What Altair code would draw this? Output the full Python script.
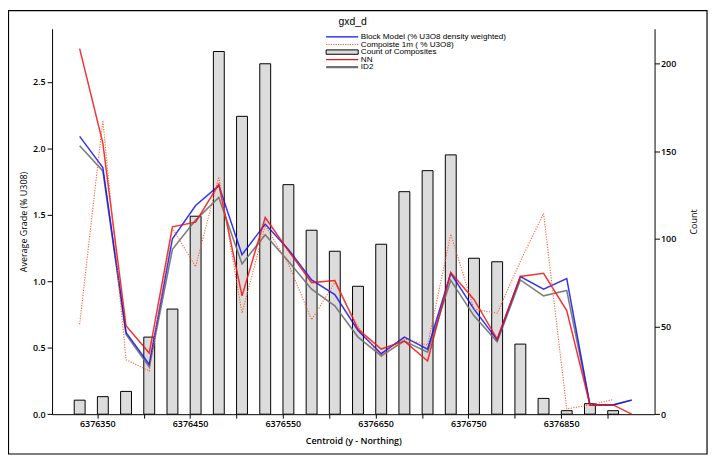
import altair as alt
import pandas as pd

# ---- data ----
centroids = [6376331, 6376356, 6376381, 6376406, 6376431, 6376456, 6376481,
             6376506, 6376531, 6376556, 6376581, 6376606, 6376631, 6376656,
             6376681, 6376706, 6376731, 6376756, 6376781, 6376806, 6376831,
             6376856, 6376881, 6376906, 6376926]

block_model = [2.09, 1.855, 0.615, 0.375, 1.32, 1.57, 1.72, 1.20, 1.43, 1.24,
               1.01, 0.90, 0.63, 0.455, 0.58, 0.49, 1.06, 0.79, 0.56, 1.036,
               0.94, 1.02, 0.07, 0.07, 0.106]
composite = [0.677, 2.21, 0.41, 0.325, 1.40, 1.11, 1.786, 0.76, 1.42, 1.13,
             0.71, 0.99, 0.66, 0.43, 0.565, 0.52, 1.354, 0.79, 0.76, 1.15,
             1.51, 0.04, 0.07, 0.11]
nn = [2.75, 2.04, 0.665, 0.46, 1.41, 1.445, 1.73, 0.89, 1.48, 1.23, 0.99,
      1.005, 0.64, 0.49, 0.55, 0.40, 1.066, 0.863, 0.565, 1.036, 1.06, 0.78,
      0.07, 0.07, 0.0]
id2 = [2.02, 1.83, 0.60, 0.355, 1.24, 1.46, 1.63, 1.13, 1.35, 1.15, 0.94,
       0.815, 0.58, 0.44, 0.55, 0.466, 1.007, 0.74, 0.545, 1.01, 0.89, 0.93,
       0.07, 0.07, 0.106]
counts = [8, 10, 13, 44, 60, 113, 207, 170, 200, 131, 105, 93, 73, 97, 127,
          139, 148, 89, 87, 40, 9, 2, 6, 2]

x_ticks = [6376350, 6376400, 6376450, 6376500, 6376550, 6376600, 6376650,
           6376700, 6376750, 6376800, 6376850, 6376900]
grade_ticks = [0, 0.5, 1.0, 1.5, 2.0, 2.5]
count_ticks = [0, 50, 100, 150, 200]

series_names = ["Block Model (% U3O8 density weighted)", "Compoiste 1m ( % U3O8)",
                "Count of Composites", "NN", "ID2"]
title_text = "gxd_d"

# ---- tables ----
df_bars = pd.DataFrame({"c": centroids[:len(counts)], "n": counts})
df_bm = pd.DataFrame({"c": centroids, "v": block_model})
df_comp = pd.DataFrame({"c": centroids[:len(composite)], "v": composite})
df_nn = pd.DataFrame({"c": centroids, "v": nn})
df_id2 = pd.DataFrame({"c": centroids, "v": id2})

W, H = 608.5, 389.3
AX_FONT = "Open Sans"
TXT_FONT = "Liberation Sans"

x_enc = alt.X(
    "c:Q",
    scale=alt.Scale(domain=[6376306.6, 6376945.3], nice=False, zero=False),
    axis=alt.Axis(
        values=x_ticks,
        labelExpr="(datum.value - 6376350) % 100 === 0 ? format(datum.value, 'd') : ''",
        title="Centroid (y - Northing)",
        titleY=27, titleBaseline="middle",
        grid=False, tickSize=4, labelPadding=1,
        domainColor="black", tickColor="black", labelColor="black", titleColor="black",
        labelFont=AX_FONT, labelFontSize=9, labelFontWeight=600,
        titleFont=AX_FONT, titleFontSize=9, titleFontWeight=600,
        labelOverlap=False, labelFlush=False,
    ),
)

y_grade = alt.Y(
    "v:Q",
    scale=alt.Scale(domain=[0, 2.9], nice=False),
    axis=alt.Axis(
        orient="left", values=grade_ticks, format=".1f",
        title="Average Grade (% U308)",
        titleX=-29, titleY=H / 2, titleAngle=270, titleBaseline="middle",
        grid=False, tickSize=5, labelPadding=2,
        domainColor="black", tickColor="black", labelColor="black", titleColor="black",
        labelFont=AX_FONT, labelFontSize=9, labelFontWeight=600,
        titleFont=AX_FONT, titleFontSize=9, titleFontWeight="normal",
    ),
)

y_count = alt.Y(
    "n:Q",
    scale=alt.Scale(domain=[0, 220], nice=False),
    axis=alt.Axis(
        orient="right", values=count_ticks, format="d",
        title="Count",
        titleX=39, titleY=H / 2, titleAngle=270, titleBaseline="middle",
        grid=False, tickSize=5, labelPadding=1,
        domainColor="black", tickColor="black", labelColor="black", titleColor="black",
        labelFont=AX_FONT, labelFontSize=9, labelFontWeight=600,
        titleFont=AX_FONT, titleFontSize=9, titleFontWeight="normal",
    ),
)

bars = alt.Chart(df_bars).mark_bar(
    size=11, fill="#dcdcdc", stroke="black", strokeWidth=1
).encode(x=x_enc, y=y_count)

BLUE, RED, GRAY, ORANGE = "#1010f0", "#f01010", "#707070", "#ff5a2a"

line_gray = alt.Chart(df_id2).mark_line(color=GRAY, strokeWidth=1.6, opacity=0.9).encode(x=x_enc, y=y_grade)
line_blue = alt.Chart(df_bm).mark_line(color=BLUE, strokeWidth=1.5, opacity=0.85).encode(x=x_enc, y=y_grade)
line_red = alt.Chart(df_nn).mark_line(color=RED, strokeWidth=1.5, opacity=0.85).encode(x=x_enc, y=y_grade)
line_orange = alt.Chart(df_comp).mark_line(
    color=ORANGE, strokeWidth=1.1, strokeDash=[1.2, 1.4], opacity=0.95
).encode(x=x_enc, y=y_grade)

lines = alt.layer(line_gray, line_blue, line_red, line_orange)

# ---- legend (drawn inside the plot, top centre) ----
LX0, LX1, TX = 276.8, 309.2, 311.8
rows = [8.3, 16.0, 23.6, 31.2, 38.8]
one = pd.DataFrame({"k": [0]})

leg = []
leg.append(alt.Chart(one).mark_rule(color=BLUE, strokeWidth=1.3).encode(
    x=alt.value(LX0), x2=alt.value(LX1), y=alt.value(rows[0])))
leg.append(alt.Chart(one).mark_rule(color=ORANGE, strokeWidth=1.1, strokeDash=[1.2, 1.2]).encode(
    x=alt.value(LX0), x2=alt.value(LX1), y=alt.value(rows[1])))
leg.append(alt.Chart(one).mark_rect(fill="#dcdcdc", stroke="black", strokeWidth=1).encode(
    x=alt.value(LX0), x2=alt.value(LX1), y=alt.value(rows[2] - 2.2), y2=alt.value(rows[2] + 2.2)))
leg.append(alt.Chart(one).mark_rule(color=RED, strokeWidth=1.3).encode(
    x=alt.value(LX0), x2=alt.value(LX1), y=alt.value(rows[3])))
leg.append(alt.Chart(one).mark_rule(color=GRAY, strokeWidth=2.2).encode(
    x=alt.value(LX0), x2=alt.value(LX1), y=alt.value(rows[4])))
for name, yy in zip(series_names, rows):
    leg.append(alt.Chart(pd.DataFrame({"t": [name]})).mark_text(
        align="left", baseline="middle", font=TXT_FONT, fontSize=8.2, color="black"
    ).encode(x=alt.value(TX), y=alt.value(yy), text="t:N"))

title = alt.Chart(pd.DataFrame({"t": [title_text]})).mark_text(
    align="center", baseline="alphabetic", font=TXT_FONT, fontSize=10.5, color="black"
).encode(x=alt.value(303.5), y=alt.value(-3.7), text="t:N")

border = alt.Chart(one).mark_rect(fillOpacity=0, stroke="black", strokeWidth=1.2).encode(
    x=alt.value(-44), x2=alt.value(661.5), y=alt.value(-18.2), y2=alt.value(429.5))

chart = alt.layer(bars, lines, *leg, title, border).resolve_scale(
    y="independent"
).properties(
    width=W, height=H,
    autosize=alt.AutoSizeParams(type="none"),
    padding={"left": 44.5, "top": 18.7, "right": 56, "bottom": 41},
    background="white",
).configure_view(stroke=None)

chart.save("out.html", embed_options={"renderer": "svg", "actions": False})
